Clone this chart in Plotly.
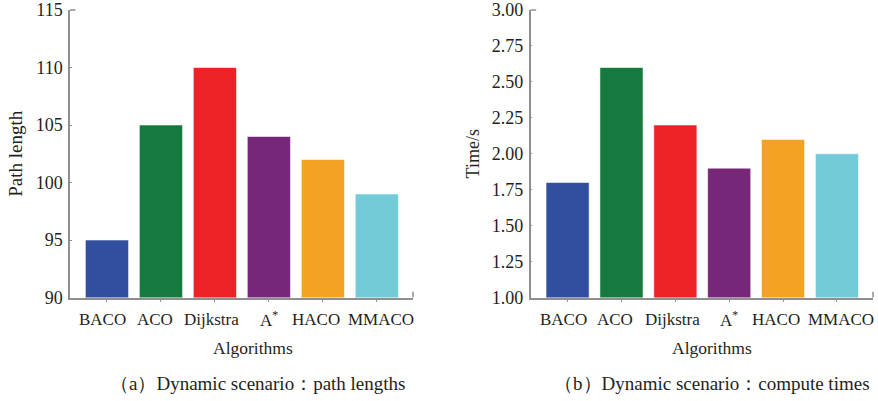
import plotly.graph_objects as go

algorithms = ["BACO", "ACO", "Dijkstra", "A*", "HACO", "MMACO"]
tick_labels = ["BACO", "ACO", "Dijkstra", "A<sup>*</sup>", "HACO", "MMACO"]
path_lengths = [95, 105, 110, 104, 102, 99]
compute_times = [1.8, 2.6, 2.2, 1.9, 2.1, 2.0]
colors = ["#324e9f", "#167a3e", "#ec2227", "#762777", "#f4a224", "#72cbd7"]
path_ticks = [90, 95, 100, 105, 110, 115]
time_ticks = [1.00, 1.25, 1.50, 1.75, 2.00, 2.25, 2.50, 2.75, 3.00]
label_shift = [-4, -6, -3, 0, -7, 4]

W, H = 878, 401
FONT = "Liberation Serif"
TXT = "#231f20"
AX = "#8f8f8f"

def px_x(p):
    return p / W

def px_y(p):
    return 1 - p / H

fig = go.Figure()
fig.add_trace(go.Bar(x=algorithms, y=path_lengths, marker=dict(color=colors, line=dict(color="rgba(255,255,255,0.55)", width=1)),
                     width=0.8, xaxis="x", yaxis="y", showlegend=False, hoverinfo="skip"))
fig.add_trace(go.Bar(x=algorithms, y=compute_times, marker=dict(color=colors, line=dict(color="rgba(255,255,255,0.55)", width=1)),
                     width=0.8, xaxis="x2", yaxis="y2", showlegend=False, hoverinfo="skip"))

ydom = [px_y(297.5), px_y(10)]
xcommon = dict(type="category", range=[-0.685, 5.67], showline=True, linecolor=AX, linewidth=1.5,
               ticks="outside", ticklen=3, tickcolor=AX, tickwidth=1.2, tickangle=0,
               tickmode="array", tickvals=algorithms, showticklabels=False,
               showgrid=False, zeroline=False, automargin=False, fixedrange=True)
ycommon = dict(showline=True, linecolor=AX, linewidth=1.5, ticks="inside", ticklen=2, tickcolor=AX,
               tickfont=dict(family=FONT, size=18, color=TXT), showgrid=False, zeroline=False,
               automargin=False, domain=ydom, ticklabelstandoff=2, ticklabeloverflow="allow", fixedrange=True)

fig.update_layout(
    width=W, height=H, margin=dict(l=0, r=0, t=0, b=0),
    paper_bgcolor="white", plot_bgcolor="white", bargap=0.2,
    xaxis=dict(xcommon, domain=[px_x(70), px_x(413)], anchor="y"),
    xaxis2=dict(xcommon, domain=[px_x(530.7), px_x(873)], anchor="y2"),
    yaxis=dict(ycommon, range=[90, 115], tickvals=path_ticks, ticktext=[str(v) for v in path_ticks], anchor="x",
               title=dict(text="Path length", font=dict(family=FONT, size=19, color=TXT), standoff=8)),
    yaxis2=dict(ycommon, range=[1.0, 3.0], tickvals=time_ticks, ticktext=[f"{v:.2f}" for v in time_ticks], anchor="x2",
                title=dict(text="Time/s", font=dict(family=FONT, size=18, color=TXT), standoff=8)),
)

# axis end caps
for xa, ya in (("x", "y"), ("x2", "y2")):
    fig.add_shape(type="line", xref=f"{xa} domain", yref=f"{ya} domain", x0=0, x1=0.016, y0=1, y1=1, line=dict(color=AX, width=1.5))
    fig.add_shape(type="line", xref=f"{xa} domain", yref=f"{ya} domain", x0=1, x1=1, y0=0, y1=0.02, line=dict(color=AX, width=1.5))

# category labels (placed on the category axis, nudged like the original)
for xa in ("x", "x2"):
    for cat, lab, sh in zip(algorithms, tick_labels, label_shift):
        fig.add_annotation(text=lab, x=cat, xref=xa, y=px_y(319), yref="paper", xshift=sh,
                           xanchor="center", yanchor="middle", showarrow=False,
                           font=dict(family=FONT, size=17, color=TXT))

annots = [
    ("Algorithms", 253, 348, 17.5),
    ("Algorithms", 712, 348, 17.5),
    ("（a）Dynamic scenario：path lengths", 257, 383, 19),
    ("（b）Dynamic scenario：compute times", 712, 383, 19),
]
for text, xp, yp, fs in annots:
    fig.add_annotation(text=text, x=px_x(xp), y=px_y(yp), xref="paper", yref="paper",
                       xanchor="center", yanchor="middle", showarrow=False,
                       font=dict(family=FONT, size=fs, color=TXT))

fig.write_html("out.html", config={"displayModeBar": False},
               post_script="document.body.style.margin='0';document.body.style.overflow='hidden';")
